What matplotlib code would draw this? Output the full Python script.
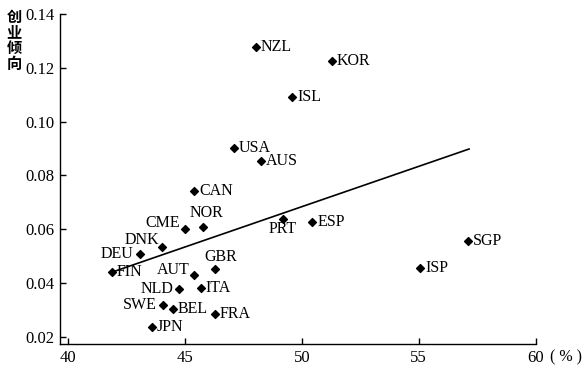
import matplotlib
matplotlib.use("Agg")
import matplotlib.pyplot as plt

countries = ["NZL", "KOR", "ISL", "USA", "AUS", "CAN", "CME", "NOR", "DNK", "DEU",
             "FIN", "AUT", "GBR", "NLD", "ITA", "SWE", "BEL", "FRA", "JPN", "PRT",
             "ESP", "SGP", "ISP"]
x_vals = [48.04, 51.30, 49.60, 47.11, 48.24, 45.40, 45.02, 45.76, 44.03, 43.09,
          41.88, 45.37, 46.29, 44.73, 45.69, 44.08, 44.49, 46.29, 43.59, 49.18,
          50.45, 57.09, 55.06]
y_vals = [0.1278, 0.1225, 0.1092, 0.0903, 0.0852, 0.0743, 0.0602, 0.0609, 0.0535, 0.0509,
          0.0439, 0.0428, 0.0451, 0.0377, 0.0381, 0.0317, 0.0302, 0.0284, 0.0235, 0.0639,
          0.0625, 0.0557, 0.0454]
line_x = [41.88, 57.15]
line_y = [0.0440, 0.0898]
x_ticks = [40, 45, 50, 55, 60]
y_ticks = [0.02, 0.04, 0.06, 0.08, 0.10, 0.12, 0.14]

# label placement: (dx points, dy points, ha, va)
placement = {
    "CME": (-4, 4, "right", "center"), "DNK": (-2, 5, "right", "center"),
    "DEU": (-5, 0, "right", "center"), "AUT": (-3, 4, "right", "center"),
    "NLD": (-4, 0, "right", "center"), "SWE": (-5, 0, "right", "center"),
    "NOR": (3, 4, "center", "bottom"), "GBR": (4, 3, "center", "bottom"),
    "PRT": (0, -2, "center", "top"),
}

serif = "Liberation Serif"
fig = plt.figure(figsize=(5.86, 3.70), dpi=100)
ax = fig.add_axes([60/586, 1-344/370, (535.7-60)/586, (344-14)/370])

ax.plot(line_x, line_y, color="black", lw=1.2, zorder=2)
ax.scatter(x_vals, y_vals, marker="D", s=16, color="black", zorder=3)
for c, xv, yv in zip(countries, x_vals, y_vals):
    dx, dy, ha, va = placement.get(c, (3.5, 0, "left", "center"))
    ax.annotate(c, (xv, yv), xytext=(dx, dy), textcoords="offset points",
                ha=ha, va=va, fontsize=11.5, family=serif)

ax.set_xlim(39.66, 60)
ax.set_ylim(0.0173, 0.14)
ax.set_xticks(x_ticks)
ax.set_xticklabels([str(t) for t in x_ticks])
ax.set_yticks(y_ticks)
ax.set_yticklabels([f"{t:.2f}" for t in y_ticks])
for s in ["top", "right"]:
    ax.spines[s].set_visible(False)
for s in ["left", "bottom"]:
    ax.spines[s].set_linewidth(1.0)
ax.spines["left"].set_bounds(0.0173, 0.14)
ax.spines["bottom"].set_bounds(39.66, 60)
ax.tick_params(direction="in", length=4, width=1.0, labelsize=12, pad=4)
for lab in ax.get_xticklabels() + ax.get_yticklabels():
    lab.set_family(serif)

fig.text(550/586, 1-357/370, "( % )", fontsize=11.5, family=serif,
         ha="left", va="center")
cjk = ["Noto Sans CJK SC", "DejaVu Sans"]
for i, ch in enumerate("创业倾向"):
    fig.text(14/586, 1-(17 + i*15.5)/370, ch, fontsize=11, family=cjk,
             ha="center", va="center", fontweight="bold")

fig.savefig("out.png", dpi=100)
